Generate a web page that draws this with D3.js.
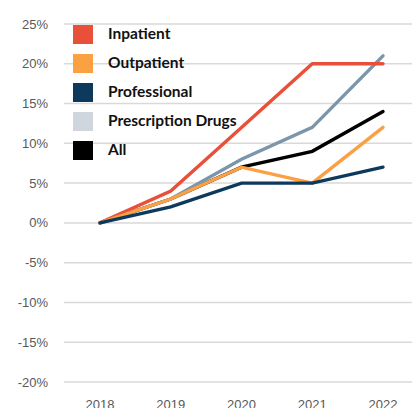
<!DOCTYPE html>
<html>
<head>
<meta charset="utf-8">
<script src="https://cdn.jsdelivr.net/npm/d3@7"></script>
<style>
  body { margin: 0; background: #fff; }
  svg { display: block; }
</style>
</head>
<body>
<script>
const years = ["2018", "2019", "2020", "2021", "2022"];
const inpatient = [0, 4, 12, 20, 20];
const outpatient = [0, 3, 7, 5, 12];
const professional = [0, 2, 5, 5, 7];
const prescription = [0, 3, 8, 12, 21];
const all = [0, 3, 7, 9, 14];
const yTicks = [25, 20, 15, 10, 5, 0, -5, -10, -15, -20];

const series = [
  { name: "Inpatient", values: inpatient, color: "#e8503a", swatch: "#e8503a" },
  { name: "Outpatient", values: outpatient, color: "#fba043", swatch: "#fba043" },
  { name: "Professional", values: professional, color: "#0d3a5c", swatch: "#0d3a5c" },
  { name: "Prescription Drugs", values: prescription, color: "#7b95aa", swatch: "#cfd6de" },
  { name: "All", values: all, color: "#000000", swatch: "#000000" }
];
// draw order for the lines (last on top)
const drawOrder = ["All", "Prescription Drugs", "Inpatient", "Outpatient", "Professional"];

const width = 412, height = 408;

const svg = d3.select("body").append("svg")
  .attr("width", width)
  .attr("height", height);

const x = d3.scalePoint()
  .domain(years)
  .range([100, 383]);

const y = d3.scaleLinear()
  .domain([-20, 25])
  .range([382, 24]);

// gridlines
svg.append("g")
  .selectAll("line")
  .data(yTicks)
  .enter().append("line")
  .attr("x1", 64)
  .attr("x2", width)
  .attr("y1", d => y(d))
  .attr("y2", d => y(d))
  .attr("stroke", "#d9d9d9")
  .attr("stroke-width", 1.5);

// y labels
svg.append("g")
  .selectAll("text")
  .data(yTicks)
  .enter().append("text")
  .attr("x", 48)
  .attr("y", d => y(d))
  .attr("dy", "0.35em")
  .attr("text-anchor", "end")
  .attr("font-family", "Liberation Sans, Arial, sans-serif")
  .attr("font-size", 13)
  .attr("fill", "#595959")
  .text(d => d + "%");

// x labels
svg.append("g")
  .selectAll("text")
  .data(years)
  .enter().append("text")
  .attr("x", d => x(d))
  .attr("y", 409)
  .attr("text-anchor", "middle")
  .attr("font-family", "Liberation Sans, Arial, sans-serif")
  .attr("font-size", 13)
  .attr("fill", "#595959")
  .text(d => d);

const line = d3.line()
  .x((d, i) => x(years[i]))
  .y(d => y(d));

const ordered = drawOrder.map(n => series.find(s => s.name == n));

svg.append("g")
  .selectAll("path")
  .data(ordered)
  .enter().append("path")
  .attr("d", d => line(d.values))
  .attr("fill", "none")
  .attr("stroke", d => d.color)
  .attr("stroke-width", 3.4)
  .attr("stroke-linejoin", "miter")
  .attr("stroke-linecap", "round");

// legend
const legend = svg.append("g")
  .selectAll("g")
  .data(series)
  .enter().append("g")
  .attr("transform", (d, i) => "translate(73," + (25 + i * 29) + ")");

legend.append("rect")
  .attr("width", 20)
  .attr("height", 19)
  .attr("fill", d => d.swatch);

legend.append("text")
  .attr("x", 35)
  .attr("y", 9)
  .attr("dy", "0.35em")
  .attr("font-family", "Lato, sans-serif")
  .attr("font-weight", "bold")
  .attr("font-size", 15.5)
  .attr("fill", "#111")
  .text(d => d.name);
</script>
</body>
</html>
